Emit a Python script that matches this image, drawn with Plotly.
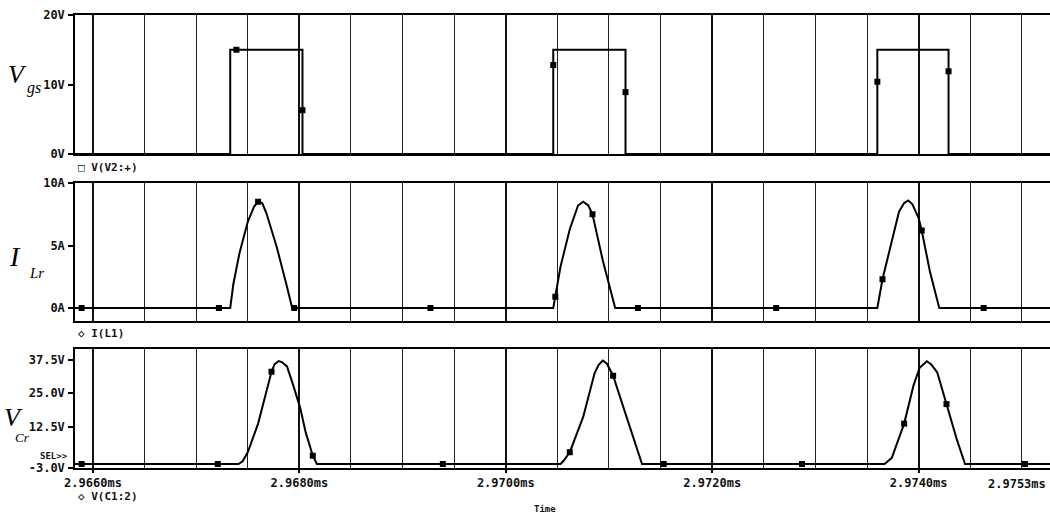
import plotly.graph_objects as go
from plotly.subplots import make_subplots

# ---------------- data (time in microseconds) ----------------
t_start = 2965.826
t_end = 2975.273

# Vgs  (V(V2:+))
vgs_t = [2965.826, 2967.33, 2967.33, 2968.03, 2968.03, 2970.46, 2970.46,
         2971.16, 2971.16, 2973.60, 2973.60, 2974.29, 2974.29, 2975.273]
vgs_v = [0, 0, 15, 15, 0, 0, 15, 15, 0, 0, 15, 15, 0, 0]
vgs_mk_t = [2967.39, 2968.03, 2970.46, 2971.16, 2973.60, 2974.29]
vgs_mk_v = [15, 6.3, 12.8, 8.9, 10.4, 11.9]

# I_Lr (I(L1))
ilr_t = [2965.826,
         2967.33, 2967.36, 2967.42, 2967.50, 2967.56, 2967.60, 2967.64, 2967.68,
         2967.78, 2967.88, 2967.93,
         2970.46, 2970.48, 2970.53, 2970.62, 2970.70, 2970.75, 2970.80, 2970.84,
         2970.94, 2971.06,
         2973.60, 2973.65, 2973.74, 2973.81, 2973.86, 2973.90, 2973.94, 2974.00,
         2974.03, 2974.11, 2974.20,
         2975.273]
ilr_v = [0,
         0, 1.9, 4.4, 6.9, 8.1, 8.5, 8.4, 7.6, 4.9, 1.7, 0,
         0, 0.9, 3.3, 6.3, 8.2, 8.5, 8.2, 7.5, 3.8, 0,
         0, 2.3, 5.3, 7.7, 8.4, 8.6, 8.3, 7.2, 6.2, 2.9, 0,
         0]
ilr_mk_t = [2965.89, 2967.22, 2967.60, 2967.95, 2969.27, 2970.48, 2970.84,
            2971.28, 2972.62, 2973.65, 2974.03, 2974.63]
ilr_mk_v = [0, 0, 8.5, 0, 0, 0.9, 7.5, 0, 0, 2.3, 6.2, 0]

# V_Cr (V(C1:2))
vcr_t = [2965.826,
         2967.41, 2967.45, 2967.50, 2967.60, 2967.68, 2967.73, 2967.76, 2967.80,
         2967.83, 2967.88, 2967.94, 2968.01, 2968.06, 2968.13, 2968.17,
         2970.53, 2970.56, 2970.62, 2970.75, 2970.86, 2970.90, 2970.94, 2970.98,
         2971.04, 2971.17, 2971.26, 2971.32,
         2973.67, 2973.74, 2973.86, 2973.95, 2974.01, 2974.08, 2974.12, 2974.18,
         2974.27, 2974.37, 2974.45,
         2975.273]
vcr_v = [-1.5,
         -1.5, -0.5, 2.9, 13.6, 25.5, 33.0, 35.8, 37.0, 36.6, 35.0, 28.0, 19.2,
         10.5, 1.6, -1.5,
         -1.5, -0.3, 2.9, 16.1, 32.4, 35.6, 37.2, 36.0, 31.5, 16.1, 5.0, -1.5,
         -1.5, 0.8, 13.6, 27.8, 34.5, 36.9, 35.8, 32.8, 20.9, 7.7, -1.5,
         -1.5]
vcr_mk_t = [2965.89, 2967.21, 2967.73, 2968.13, 2969.39, 2970.62, 2971.04,
            2971.53, 2972.87, 2973.86, 2974.27, 2975.03]
vcr_mk_v = [-1.5, -1.5, 33.0, 1.6, -1.5, 2.9, 31.5, -1.5, -1.5, 13.6, 20.9, -1.5]

# tick labels
x_tick_vals = [2966, 2968, 2970, 2972, 2974]
x_tick_text = ["2.9660ms", "2.9680ms", "2.9700ms", "2.9720ms", "2.9740ms"]
x_end_label = "2.9753ms"
y1_vals = [0, 10, 20]
y1_text = ["0V", "10V", "20V"]
y2_vals = [0, 5, 10]
y2_text = ["0A", "5A", "10A"]
y3_vals = [-3, 12.5, 25, 37.5]
y3_text = ["-3.0V", "12.5V", "25.0V", "37.5V"]
trace_names = ["V(V2:+)", "I(L1)", "V(C1:2)"]

# ---------------- figure ----------------
W, H = 1050, 516
def py(px):
    return 1 - px / H
def pxx(px):
    return px / W

fig = make_subplots(rows=3, cols=1, shared_xaxes=True)

line = dict(color="black", width=2)
mk = dict(color="black", size=6, symbol="square")

fig.add_trace(go.Scatter(x=vgs_t, y=vgs_v, mode="lines", line=line, name=trace_names[0]), row=1, col=1)
fig.add_trace(go.Scatter(x=vgs_mk_t, y=vgs_mk_v, mode="markers", marker=mk, showlegend=False), row=1, col=1)
fig.add_trace(go.Scatter(x=ilr_t, y=ilr_v, mode="lines", line=line, name=trace_names[1]), row=2, col=1)
fig.add_trace(go.Scatter(x=ilr_mk_t, y=ilr_mk_v, mode="markers", marker=mk, showlegend=False), row=2, col=1)
fig.add_trace(go.Scatter(x=vcr_t, y=vcr_v, mode="lines", line=line, name=trace_names[2]), row=3, col=1)
fig.add_trace(go.Scatter(x=vcr_mk_t, y=vcr_mk_v, mode="markers", marker=mk, showlegend=False), row=3, col=1)

tickfont = dict(family="DejaVu Sans Mono", size=12, color="#111", weight="bold")

xcommon = dict(range=[t_start, t_end], domain=[pxx(75), 1.0], automargin=False,
               showline=True, mirror=True, linecolor="black", linewidth=1.5,
               showgrid=True, gridcolor="#111", gridwidth=1.6,
               tickmode="array", tickvals=x_tick_vals, ticktext=x_tick_text,
               minor=dict(tick0=2966, dtick=0.5, showgrid=True, gridcolor="#222",
                          gridwidth=1, ticks=""),
               zeroline=False, tickfont=tickfont)
fig.update_layout(
    xaxis=dict(xcommon, showticklabels=False, ticks=""),
    xaxis2=dict(xcommon, showticklabels=False, ticks=""),
    xaxis3=dict(xcommon, showticklabels=True, ticks="outside", ticklen=3,
                tickcolor="black", tickwidth=1.5, ticklabelstandoff=0),
)

ycommon = dict(showline=True, mirror=False, linecolor="black", linewidth=1.5,
               showgrid=False, zeroline=False, ticks="outside", ticklen=5,
               tickcolor="black", tickwidth=1.5, tickmode="array", automargin=False,
               tickfont=tickfont, ticklabelstandoff=1)
fig.update_layout(
    yaxis=dict(ycommon, domain=[py(154), py(15)], range=[0, 20],
               tickvals=y1_vals, ticktext=y1_text),
    yaxis2=dict(ycommon, domain=[py(321), py(183)], range=[-1.04, 10],
                tickvals=y2_vals, ticktext=y2_text),
    yaxis3=dict(ycommon, domain=[py(468), py(349)], range=[-3, 41.5],
                tickvals=y3_vals, ticktext=y3_text),
)

lab_font = dict(family="DejaVu Sans Mono", size=11, color="#111", weight="bold")
ann = []
ann.append(dict(text="\u25a1 " + trace_names[0], x=pxx(76), y=py(167)))
ann.append(dict(text="\u25c7 " + trace_names[1], x=pxx(76), y=py(333)))
ann.append(dict(text="\u25c7 " + trace_names[2], x=pxx(76), y=py(496)))
for a in ann:
    a.update(xref="paper", yref="paper", showarrow=False, xanchor="left",
             yanchor="middle", font=lab_font)
ann.append(dict(text="SEL>>", x=pxx(70), y=py(456), xref="paper", yref="paper",
                showarrow=False, xanchor="right", yanchor="middle",
                font=dict(family="DejaVu Sans Mono", size=9, color="#111", weight="bold")))
ann.append(dict(text=x_end_label, x=pxx(1048), y=py(484), xref="paper", yref="paper",
                showarrow=False, xanchor="right", yanchor="middle", font=tickfont))
ann.append(dict(text="Time", x=pxx(545), y=py(509), xref="paper", yref="paper",
                showarrow=False, xanchor="center", yanchor="middle",
                font=dict(family="DejaVu Sans Mono", size=9, color="#111", weight="bold")))

serif = "Liberation Serif"
big = [("V", 17, 74, 26), ("gs", 34, 88, 16),
       ("I", 15, 256, 28), ("Lr", 36, 273, 15),
       ("V", 13, 417, 26), ("Cr", 22, 437, 13)]
for txt, x, y, s in big:
    ann.append(dict(text="<i>" + txt + "</i>", x=pxx(x), y=py(y), xref="paper",
                    yref="paper", showarrow=False, xanchor="center", yanchor="middle",
                    font=dict(family=serif, size=s, color="black")))

fig.update_layout(annotations=ann, width=W, height=H,
                  margin=dict(l=0, r=0, t=0, b=0, autoexpand=False),
                  paper_bgcolor="white", plot_bgcolor="white", showlegend=False)

fig.write_html("out.html", config={"displayModeBar": False})

# remove the browser's default page margin so the figure sits at the window origin
with open("out.html", "r", encoding="utf-8") as f:
    html = f.read()
html = html.replace("<head>", "<head><style>html,body{margin:0;padding:0;overflow:hidden;}</style>", 1)
with open("out.html", "w", encoding="utf-8") as f:
    f.write(html)
